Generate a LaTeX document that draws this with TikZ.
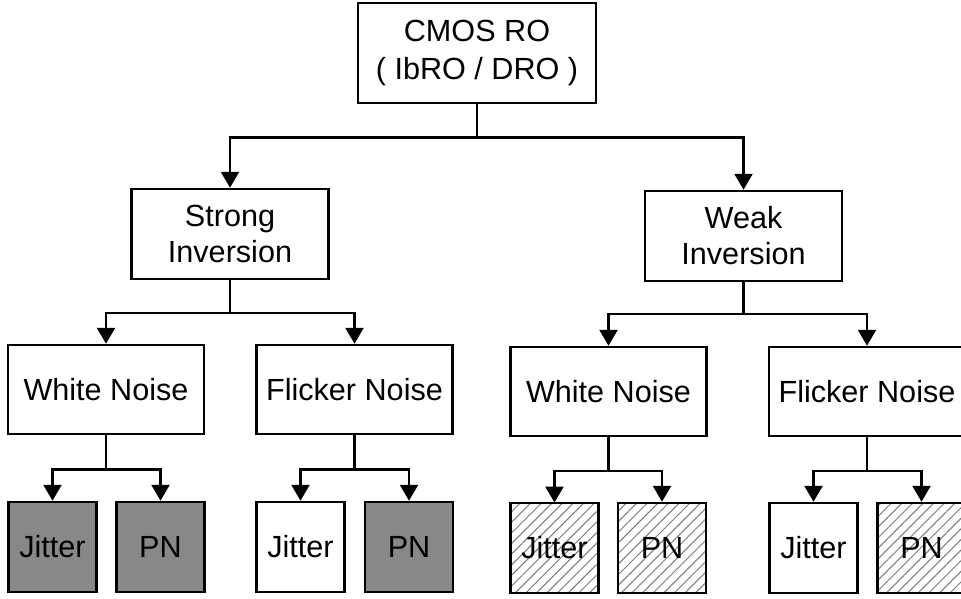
\documentclass[tikz,border=0pt]{standalone}
\usepackage{fontspec}
\setmainfont{Liberation Sans}
\usetikzlibrary{arrows.meta,patterns.meta}
\definecolor{leafgray}{HTML}{888888}
\definecolor{hatchgray}{HTML}{7A7A7A}
\begin{document}
\begin{tikzpicture}[x=1pt,y=1pt,
  font=\fontsize{30.6}{36}\selectfont,
  box/.style={draw=black,line width=2.5pt,fill=white,inner sep=0pt,align=center},
  topbox/.style={box,minimum width=238pt,minimum height=100pt},
  midbox/.style={box,minimum width=197pt,minimum height=90pt},
  noisebox/.style={box,minimum width=196pt,minimum height=89pt},
  leaf/.style={box,minimum width=88pt,minimum height=90pt},
  shaded/.style={fill=leafgray},
  hatched/.style={pattern={Lines[angle=45,distance=7.5pt,line width=1pt]},pattern color=hatchgray},
  link/.style={line width=2.5pt,line join=miter},
  arr/.style={link,-{Triangle[length=16pt,width=18pt]}}
]
\useasboundingbox (0,0) rectangle (961,-599);

% root
\node[topbox] (root) at (477,-53) {CMOS RO\\[2pt]( IbRO / DRO )};

% inversion regimes
\node[midbox] (strong) at (230,-234) {Strong\\Inversion};
\node[midbox] (weak)   at (743.5,-236) {Weak\\Inversion};

% noise types
\node[noisebox] (swn) at (106,-389.5)   {White Noise};
\node[noisebox] (sfn) at (354.5,-389.5) {Flicker Noise};
\node[noisebox] (wwn) at (608.5,-391.5) {White Noise};
\node[noisebox] (wfn) at (867,-391.5)   {Flicker Noise};

% leaves
\node[leaf,shaded]  (swnj) at (52.5,-547)  {Jitter};
\node[leaf,shaded]  (swnp) at (160.5,-547) {PN};
\node[leaf]         (sfnj) at (300.5,-547) {Jitter};
\node[leaf,shaded]  (sfnp) at (409,-547)   {PN};
\node[leaf,hatched] (wwnj) at (554.5,-548) {Jitter};
\node[leaf,hatched] (wwnp) at (662,-548)   {PN};
\node[leaf]         (wfnj) at (813.5,-548) {Jitter};
\node[leaf,hatched] (wfnp) at (921.5,-548) {PN};

% junction points of the tree connectors
\coordinate (j0) at (477,-137.5);
\coordinate (js) at (230,-313);
\coordinate (jw) at (743.5,-314);
\coordinate (jsw) at (106,-469.5);
\coordinate (jsf) at (354.5,-469.5);
\coordinate (jww) at (608.5,-471);
\coordinate (jwf) at (867,-471);

% root -> regimes
\draw[link] (root.south) -- (j0);
\draw[arr] (j0) -| (strong.north);
\draw[arr] (j0) -| (weak.north);

% regimes -> noise types
\draw[link] (strong.south) -- (js);
\draw[arr] (js) -| (swn.north);
\draw[arr] (js) -| (sfn.north);
\draw[link] (weak.south) -- (jw);
\draw[arr] (jw) -| (wwn.north);
\draw[arr] (jw) -| (wfn.north);

% noise types -> leaves
\draw[link] (swn.south) -- (jsw);
\draw[arr] (jsw) -| (swnj.north);
\draw[arr] (jsw) -| (swnp.north);
\draw[link] (sfn.south) -- (jsf);
\draw[arr] (jsf) -| (sfnj.north);
\draw[arr] (jsf) -| (sfnp.north);
\draw[link] (wwn.south) -- (jww);
\draw[arr] (jww) -| (wwnj.north);
\draw[arr] (jww) -| (wwnp.north);
\draw[link] (wfn.south) -- (jwf);
\draw[arr] (jwf) -| (wfnj.north);
\draw[arr] (jwf) -| (wfnp.north);
\end{tikzpicture}
\end{document}
